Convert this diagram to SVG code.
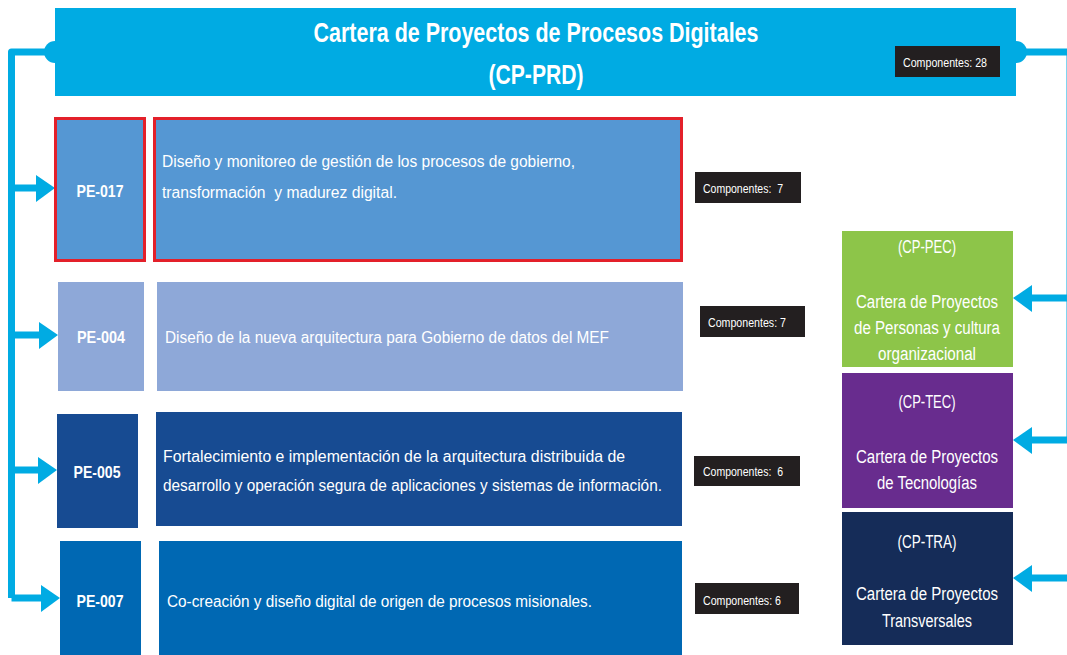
<svg xmlns="http://www.w3.org/2000/svg" width="1067" height="655" viewBox="0 0 1067 655">
<style>
.t{font-family:"Liberation Sans",Arial,sans-serif;fill:#fff}
.b{font-weight:bold}
.d{font-size:16px}
.pe{font-size:17px;font-weight:bold;text-anchor:middle}
.cp{font-size:18px;text-anchor:middle}
.lab{fill:#231F20}
.lt{font-family:"Liberation Sans",Arial,sans-serif;fill:#fff;font-size:12px}
.ln{fill:none;stroke:#00ABE3;stroke-width:7;stroke-linejoin:round}
.ar{fill:#00ABE3}
</style>
<rect width="1067" height="655" fill="#fff"/>
<g id="connectors">
<circle cx="55" cy="52" r="11" class="ar"/>
<circle cx="1016" cy="52" r="11" class="ar"/>
<path class="ln" d="M55,52 H11.5 V598 M1016,52 H1070 V440"/>
<path class="ln" d="M11.5,188 H38 M11.5,335 H40 M11.5,470 H40 M11.5,598 H42"/>
<polygon class="ar" points="36,175 55,188 36,202"/>
<polygon class="ar" points="39,322 58,335 39,349"/>
<polygon class="ar" points="38,457 57,470 38,484"/>
<polygon class="ar" points="41,585 60,598 41,612"/>
<path class="ln" d="M1067,298 H1030 M1067,440 H1030 M1067,578 H1030"/>
<polygon class="ar" points="1032,285 1013,298 1032,312"/>
<polygon class="ar" points="1032,427 1013,440 1032,454"/>
<polygon class="ar" points="1032,565 1013,578 1032,592"/>
</g>
<g id="header">
<rect x="55" y="8" width="961" height="88" fill="#00ABE3"/>
<text class="t b" x="536" y="42" font-size="28" text-anchor="middle" textLength="445" lengthAdjust="spacingAndGlyphs">Cartera de Proyectos de Procesos Digitales</text>
<text class="t b" x="536" y="84" font-size="28" text-anchor="middle" textLength="95" lengthAdjust="spacingAndGlyphs">(CP-PRD)</text>
<rect class="lab" x="895" y="46" width="105" height="31"/>
<text class="lt" x="903" y="67" textLength="84" lengthAdjust="spacingAndGlyphs">Componentes: 28</text>
</g>
<g id="pe017">
<rect x="55.5" y="118.5" width="89" height="142" fill="#5597D3" stroke="#E3202A" stroke-width="3"/>
<text class="t pe" x="100" y="197" textLength="47" lengthAdjust="spacingAndGlyphs">PE-017</text>
<rect x="154.5" y="118.5" width="527" height="142" fill="#5597D3" stroke="#E3202A" stroke-width="3"/>
<text class="t d" x="162" y="167" textLength="413" lengthAdjust="spacingAndGlyphs">Diseño y monitoreo de gestión de los procesos de gobierno,</text>
<text class="t d" x="162" y="198" textLength="235" lengthAdjust="spacingAndGlyphs">transformación&#160; y madurez digital.</text>
<rect class="lab" x="695" y="172" width="106" height="31"/>
<text class="lt" x="703" y="193" textLength="80" lengthAdjust="spacingAndGlyphs">Componentes:&#160; 7</text>
</g>
<g id="pe004">
<rect x="58" y="282" width="86" height="109" fill="#8EA8D8"/>
<text class="t pe" x="101" y="343" textLength="48" lengthAdjust="spacingAndGlyphs">PE-004</text>
<rect x="157" y="282" width="526" height="109" fill="#8EA8D8"/>
<text class="t d" x="165" y="343" textLength="444" lengthAdjust="spacingAndGlyphs">Diseño de la nueva arquitectura para Gobierno de datos del MEF</text>
<rect class="lab" x="700" y="306" width="105" height="31"/>
<text class="lt" x="708" y="327" textLength="78" lengthAdjust="spacingAndGlyphs">Componentes: 7</text>
</g>
<g id="pe005">
<rect x="57" y="414" width="81" height="114" fill="#174B92"/>
<text class="t pe" x="97" y="478" textLength="47" lengthAdjust="spacingAndGlyphs">PE-005</text>
<rect x="156" y="412" width="526" height="114" fill="#174B92"/>
<text class="t d" x="163" y="462" textLength="462" lengthAdjust="spacingAndGlyphs">Fortalecimiento e implementación de la arquitectura distribuida de</text>
<text class="t d" x="163" y="491" textLength="499" lengthAdjust="spacingAndGlyphs">desarrollo y operación segura de aplicaciones y sistemas de información.</text>
<rect class="lab" x="694" y="456" width="106" height="30"/>
<text class="lt" x="703" y="476" textLength="80" lengthAdjust="spacingAndGlyphs">Componentes:&#160; 6</text>
</g>
<g id="pe007">
<rect x="60" y="541" width="81" height="114" fill="#0068B3"/>
<text class="t pe" x="100" y="607" textLength="47" lengthAdjust="spacingAndGlyphs">PE-007</text>
<rect x="159" y="541" width="523" height="114" fill="#0068B3"/>
<text class="t d" x="167" y="607" textLength="425" lengthAdjust="spacingAndGlyphs">Co-creación y diseño digital de origen de procesos misionales.</text>
<rect class="lab" x="695" y="583" width="104" height="31"/>
<text class="lt" x="703" y="605" textLength="78" lengthAdjust="spacingAndGlyphs">Componentes: 6</text>
</g>
<g id="cp-pec">
<rect x="842" y="231" width="171" height="136" fill="#8DC549"/>
<text class="t cp" x="927" y="253" textLength="58" lengthAdjust="spacingAndGlyphs">(CP-PEC)</text>
<text class="t cp" x="927" y="308" textLength="142" lengthAdjust="spacingAndGlyphs">Cartera de Proyectos</text>
<text class="t cp" x="927" y="334" textLength="146" lengthAdjust="spacingAndGlyphs">de Personas y cultura</text>
<text class="t cp" x="927" y="360" textLength="98" lengthAdjust="spacingAndGlyphs">organizacional</text>
</g>
<g id="cp-tec">
<rect x="842" y="373" width="171" height="135" fill="#682C8E"/>
<text class="t cp" x="927" y="408" textLength="57" lengthAdjust="spacingAndGlyphs">(CP-TEC)</text>
<text class="t cp" x="927" y="463" textLength="142" lengthAdjust="spacingAndGlyphs">Cartera de Proyectos</text>
<text class="t cp" x="927" y="489" textLength="100" lengthAdjust="spacingAndGlyphs">de Tecnologías</text>
</g>
<g id="cp-tra">
<rect x="842" y="512" width="171" height="133" fill="#152C58"/>
<text class="t cp" x="927" y="548" textLength="59" lengthAdjust="spacingAndGlyphs">(CP-TRA)</text>
<text class="t cp" x="927" y="600" textLength="142" lengthAdjust="spacingAndGlyphs">Cartera de Proyectos</text>
<text class="t cp" x="927" y="627" textLength="90" lengthAdjust="spacingAndGlyphs">Transversales</text>
</g>
</svg>
